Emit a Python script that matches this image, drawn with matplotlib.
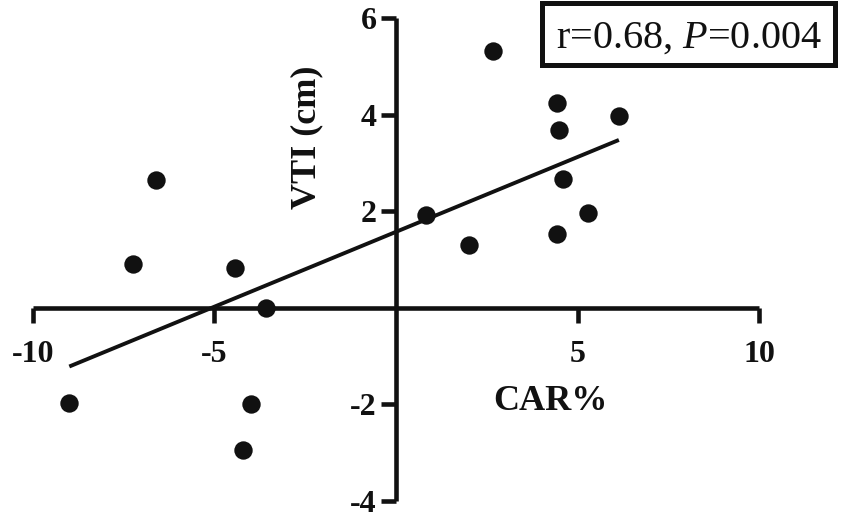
import matplotlib
matplotlib.use("Agg")
import matplotlib.pyplot as plt
from matplotlib.patches import Rectangle
import numpy as np

car = [-9.0, -7.24, -6.62, -4.43, -4.21, -4.0, -3.59, 0.83, 2.02, 2.68,
       4.43, 4.44, 4.49, 4.61, 5.30, 6.14]
vti = [-1.98, 0.90, 2.64, 0.82, -2.95, -2.0, 0.0, 1.91, 1.29, 5.32,
       4.24, 1.53, 3.68, 2.66, 1.95, 3.96]
fit_slope = 0.31
fit_intercept = 1.57
xticks = [-10, -5, 5, 10]
yticks = [-4, -2, 2, 4, 6]
annotation = "r=0.68, $\\mathit{P}$=0.004"

W, H = 843, 519
plt.rcParams['mathtext.fontset'] = 'custom'
plt.rcParams['mathtext.it'] = 'Liberation Serif:italic'
plt.rcParams['mathtext.rm'] = 'Liberation Serif'
serif = 'Liberation Serif'
fig = plt.figure(figsize=(W / 100, H / 100), dpi=100)

x0, x1 = 33, 759
y_top, y_bot = 18, 500.7
ax = fig.add_axes([x0 / W, 1 - y_bot / H, (x1 - x0) / W, (y_bot - y_top) / H])
ax.set_xlim(-10, 10)
ax.set_ylim(-4, 6)

for s in ['top', 'right']:
    ax.spines[s].set_visible(False)
ax.spines['left'].set_position(('data', 0))
ax.spines['bottom'].set_position(('data', 0))
for s in ['left', 'bottom']:
    ax.spines[s].set_linewidth(3.3)
    ax.spines[s].set_color('#111111')
    ax.spines[s].set_capstyle('butt')

ax.set_xticks(xticks)
ax.set_yticks(yticks)
ax.set_xticklabels([str(t) for t in xticks])
ax.set_yticklabels([str(t) for t in yticks])
ax.tick_params(axis='both', direction='out', length=11, width=3.3, color='#111111',
               labelsize=23)
ax.tick_params(axis='x', pad=12)
ax.tick_params(axis='y', pad=3)
for lab in ax.get_xticklabels() + ax.get_yticklabels():
    lab.set_fontfamily(serif)
    lab.set_fontweight('bold')
    lab.set_color('#111111')

ax.scatter(car, vti, s=175, color='#111111', zorder=3, clip_on=False, linewidths=0)
xs = np.array([min(car), max(car)])
ax.plot(xs, fit_slope * xs + fit_intercept, color='#111111', lw=2.8, zorder=2,
        solid_capstyle='butt')

fig.text(307 / W, 1 - 137 / H, "VTI (cm)", rotation=90, ha='center', va='center',
         fontfamily=serif, fontweight='bold', fontsize=26, color='#111111')
fig.text(550 / W, 1 - 402 / H, "CAR%", ha='center', va='center',
         fontfamily=serif, fontweight='bold', fontsize=26, color='#111111')

# annotation box
bx0, by0, bx1, by1 = 542, 3, 835, 65
fig.patches.append(Rectangle((bx0 / W, 1 - by1 / H), (bx1 - bx0) / W, (by1 - by0) / H,
                             transform=fig.transFigure, facecolor='white',
                             edgecolor='#111111', linewidth=3.6, zorder=5))
fig.text(689 / W, 1 - 48 / H, annotation, ha='center', va='baseline',
         fontfamily=serif, fontsize=29, color='#111111', zorder=6)

fig.savefig("out.png", dpi=100)
